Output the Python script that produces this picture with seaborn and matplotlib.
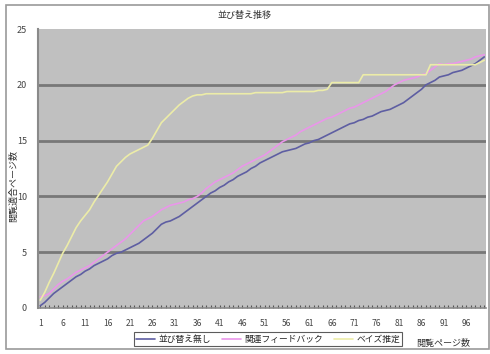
import numpy as np
import pandas as pd
import matplotlib
matplotlib.use("Agg")
import matplotlib.pyplot as plt
from matplotlib.patches import Rectangle
import seaborn as sns

# 閲覧ページ数 1..100
pages = list(range(1, 101))

no_sort = [
    0.2, 0.5, 0.9, 1.3, 1.6, 1.9, 2.2, 2.5, 2.8, 3.0,
    3.3, 3.5, 3.8, 4.0, 4.2, 4.4, 4.7, 4.9, 5.0, 5.2,
    5.4, 5.6, 5.8, 6.1, 6.4, 6.7, 7.1, 7.5, 7.7, 7.8,
    8.0, 8.2, 8.5, 8.8, 9.1, 9.4, 9.7, 10.0, 10.3, 10.5,
    10.8, 11.0, 11.3, 11.5, 11.8, 12.0, 12.2, 12.5, 12.7, 13.0,
    13.2, 13.4, 13.6, 13.8, 14.0, 14.1, 14.2, 14.3, 14.5, 14.7,
    14.8, 15.0, 15.1, 15.3, 15.5, 15.7, 15.9, 16.1, 16.3, 16.5,
    16.6, 16.8, 16.9, 17.1, 17.2, 17.4, 17.6, 17.7, 17.8, 18.0,
    18.2, 18.4, 18.7, 19.0, 19.3, 19.6, 20.0, 20.2, 20.4, 20.7,
    20.8, 20.9, 21.1, 21.2, 21.3, 21.5, 21.7, 21.9, 22.2, 22.5,
]

feedback = [
    1.0, 1.1, 1.3, 1.7, 2.1, 2.4, 2.6, 2.9, 3.2, 3.4,
    3.6, 3.8, 4.1, 4.4, 4.7, 5.0, 5.3, 5.6, 5.9, 6.2,
    6.6, 7.0, 7.4, 7.8, 8.0, 8.2, 8.5, 8.8, 9.0, 9.2,
    9.3, 9.4, 9.5, 9.7, 9.8, 10.0, 10.3, 10.7, 11.0, 11.3,
    11.5, 11.7, 11.9, 12.1, 12.4, 12.7, 12.9, 13.1, 13.3, 13.5,
    13.7, 14.0, 14.3, 14.6, 14.9, 15.1, 15.3, 15.5, 15.8, 16.0,
    16.2, 16.4, 16.6, 16.8, 17.0, 17.1, 17.3, 17.5, 17.7, 17.9,
    18.0, 18.2, 18.4, 18.6, 18.8, 19.0, 19.2, 19.4, 19.7, 20.0,
    20.2, 20.4, 20.5, 20.6, 20.7, 20.9, 21.0, 21.3, 21.6, 21.9,
    21.8, 21.9, 21.9, 22.0, 22.1, 22.2, 22.3, 22.5, 22.6, 22.7,
]

bayes = [
    0.7, 1.4, 2.3, 3.1, 4.0, 4.9, 5.6, 6.4, 7.2, 7.8,
    8.3, 8.8, 9.5, 10.1, 10.7, 11.3, 12.0, 12.7, 13.1, 13.5,
    13.8, 14.0, 14.2, 14.4, 14.6, 15.2, 15.9, 16.6, 17.0, 17.4,
    17.8, 18.2, 18.5, 18.8, 19.0, 19.1, 19.1, 19.2, 19.2, 19.2,
    19.2, 19.2, 19.2, 19.2, 19.2, 19.2, 19.2, 19.2, 19.3, 19.3,
    19.3, 19.3, 19.3, 19.3, 19.3, 19.4, 19.4, 19.4, 19.4, 19.4,
    19.4, 19.4, 19.5, 19.5, 19.6, 20.2, 20.2, 20.2, 20.2, 20.2,
    20.2, 20.2, 20.9, 20.9, 20.9, 20.9, 20.9, 20.9, 20.9, 20.9,
    20.9, 20.9, 20.9, 20.9, 20.9, 20.9, 20.9, 21.8, 21.8, 21.8,
    21.8, 21.8, 21.8, 21.8, 21.8, 21.8, 21.8, 21.8, 22.0, 22.2,
]

series_names = ["並び替え無し", "関連フィードバック", "ベイズ推定"]
series_colors = ["#5e5ea2", "#ea96ea", "#ececa8"]

x_ticks = list(range(1, 101, 5))
y_ticks = [0, 5, 10, 15, 20, 25]

df = pd.DataFrame({
    "page": pages * 3,
    "value": no_sort + feedback + bayes,
    "series": [series_names[0]] * 100 + [series_names[1]] * 100 + [series_names[2]] * 100,
})

sns.set_theme(style="white")
plt.rcParams["font.family"] = ["Noto Sans CJK JP", "DejaVu Sans"]

fig = plt.figure(figsize=(4.9, 3.54), dpi=100)
ax = fig.add_axes([0.078, 0.130, 0.914, 0.788])
ax.set_facecolor("#c0c0c0")

# horizontal grid bands
for yv in y_ticks[1:-1]:
    ax.axhline(yv, color="#787878", lw=2.0, zorder=1)

sns.lineplot(data=df, x="page", y="value", hue="series",
             hue_order=series_names,
             palette=dict(zip(series_names, series_colors)),
             lw=1.2, ax=ax, legend=True, zorder=3)

ax.set_xlim(0.55, 100.4)
ax.set_ylim(0, 25)
ax.set_xticks(x_ticks)
ax.set_xticklabels([str(v) for v in x_ticks], fontsize=6, color="#444444")
ax.set_xticks(pages, minor=True)
ax.set_yticks(y_ticks)
ax.set_yticklabels([str(v) for v in y_ticks], fontsize=6.5, color="#444444")
ax.tick_params(axis="x", which="both", length=2, width=0.8, color="#555555",
               direction="in", pad=8, bottom=True)
ax.tick_params(axis="y", length=0, pad=8)

for side in ["top", "right"]:
    ax.spines[side].set_visible(False)
ax.spines["left"].set_color("#8a8a8a")
ax.spines["left"].set_linewidth(1.5)
ax.spines["bottom"].set_color("#8a8a8a")
ax.spines["bottom"].set_linewidth(1.2)

ax.set_xlabel("")
ax.set_ylabel("")

fig.text(0.50, 0.955, "並び替え推移", ha="center", va="center", fontsize=6.5, color="#333333")
fig.text(0.028, 0.475, "閲覧適合ページ数", rotation=90, ha="center", va="center",
         fontsize=6.5, color="#333333")
fig.text(0.905, 0.030, "閲覧ページ数", ha="center", va="center", fontsize=6.5, color="#333333")

handles, labels = ax.get_legend_handles_labels()
ax.legend_.remove()
leg = fig.legend(handles, labels, loc="center", bbox_to_anchor=(0.547, 0.042),
                 ncol=3, fontsize=6.3, frameon=True, fancybox=False,
                 handlelength=2.2, handletextpad=0.4, columnspacing=1.2,
                 borderpad=0.25, edgecolor="#333333")
leg.get_frame().set_linewidth(0.8)

# outer frame of the figure
fig.patches.append(Rectangle((0.012, 0.015), 0.985, 0.970, transform=fig.transFigure,
                             fill=False, edgecolor="#9a9a9a", lw=1.2))

fig.savefig("out.png", dpi=100)
